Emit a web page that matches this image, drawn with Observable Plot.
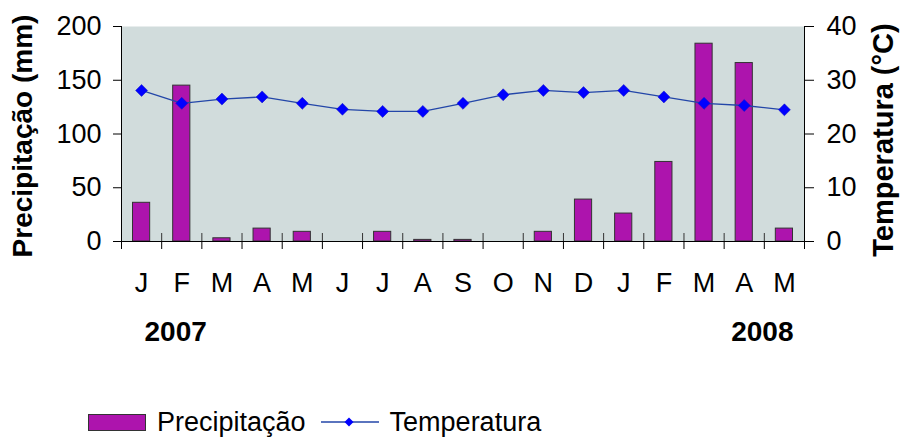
<!DOCTYPE html>
<html><head><meta charset="utf-8">
<script src="https://cdn.jsdelivr.net/npm/d3@7"></script>
<script src="https://cdn.jsdelivr.net/npm/@observablehq/plot@0.6"></script>
<style>
body{margin:0;background:#fff;font-family:"Liberation Sans",Arial,sans-serif;}
#legend{display:flex;align-items:center;height:36px;font-size:27px;color:#000;}
#legend .sw{display:inline-block;width:56px;height:15px;background:#AD14AD;border:1px solid #333;margin-left:88px;margin-right:11px;}
#legend svg{margin-left:14px;margin-right:10px;}
</style></head><body><div id="chart"></div>
<div id="legend"><span class="sw"></span><span>Precipitação</span>
<svg width="60" height="14"><line x1="1" y1="7" x2="59" y2="7" stroke="#2346A8" stroke-width="1.3"/><path d="M29,2.5L33.5,7L29,11.5L24.5,7Z" fill="#0000FF"/></svg><span>Temperatura</span></div>
<script>
const months = ["J","F","M","A","M","J","J","A","S","O","N","D","J","F","M","A","M"];
const precipitation = [36,145,3,12,9,0,9,1.5,1.5,0,9,39,26,74,184,166,12];
const temperature = [28.1,25.7,26.5,26.9,25.7,24.6,24.2,24.2,25.7,27.3,28.1,27.7,28.1,26.9,25.7,25.3,24.5];
const precipTicks = [0,50,100,150,200];
const tempTicks = [0,10,20,30,40];
const years = ["2007","2008"];
const yLabelLeft = "Precipitação (mm)";
const yLabelRight = "Temperatura (°C)";

const rows = months.map((m,i)=>({i, month:m, p:precipitation[i], t:temperature[i]}));
const tScale = 200/40; // right axis maps onto left axis
const H = 404;
const font = '"Liberation Sans", Arial, sans-serif';

const chart = Plot.plot({
  width: 904, height: H,
  marginLeft: 121, marginRight: 100, marginTop: 26, marginBottom: H-241,
  style: {fontFamily: font, fontSize: "27px", color: "#000", background: "#fff", overflow: "visible"},
  x: {domain: [0, months.length]},
  y: {domain: [0, 200]},
  marks: [
    Plot.frame({fill: "#D1DCDC", stroke: null}),
    Plot.rectY(rows, {x1: "i", x2: d => d.i + 1, y: "p", insetLeft: 11.5, insetRight: 11.5, fill: "#AD14AD", stroke: "#333", strokeWidth: 1}),
    Plot.lineY(rows, {x: d => d.i + 0.5, y: d => d.t * tScale, stroke: "#2346A8", strokeWidth: 1.3}),
    Plot.dot(rows, {x: d => d.i + 0.5, y: d => d.t * tScale, symbol: "diamond2", r: 5.4, fill: "#0000FF", stroke: "#1010C0", strokeWidth: 0.5}),
    Plot.ruleX(d3.range(1, months.length), {insetTop: 207, stroke: "#333"}),
    Plot.ruleY([0], {stroke: "#000"}),
    Plot.ruleX([0, months.length], {stroke: "#000"}),
    Plot.axisY({anchor: "left", ticks: precipTicks, tickSize: 8, tickPadding: 12, label: null}),
    Plot.axisY({anchor: "right", ticks: tempTicks.map(t => t * tScale), tickFormat: d => d / tScale, tickSize: 9, tickPadding: 13, label: null}),
    Plot.axisX({ticks: d3.range(0, months.length + 1), tickSize: 8, tickFormat: () => "", label: null}),
    Plot.axisX({ticks: months.map((m, i) => i + 0.5), tickSize: 0, tickPadding: 31, tickFormat: d => months[Math.floor(d)], label: null}),
    Plot.text([years[0]], {x: 0, y: 0, dx: 23, dy: 80, lineAnchor: "top", textAnchor: "start", fontWeight: "bold", fontSize: 28}),
    Plot.text([years[1]], {x: months.length, y: 0, dx: -11, dy: 80, lineAnchor: "top", textAnchor: "end", fontWeight: "bold", fontSize: 28}),
    Plot.text([yLabelLeft], {frameAnchor: "left", textAnchor: "middle", lineAnchor: "middle", dx: -98, dy: 2, rotate: -90, fontWeight: "bold", fontSize: 28}),
    Plot.text([yLabelRight], {frameAnchor: "right", textAnchor: "middle", lineAnchor: "middle", dx: 79, dy: 6, rotate: -90, fontWeight: "bold", fontSize: 29})
  ]
});
document.getElementById("chart").appendChild(chart);
</script></body></html>
